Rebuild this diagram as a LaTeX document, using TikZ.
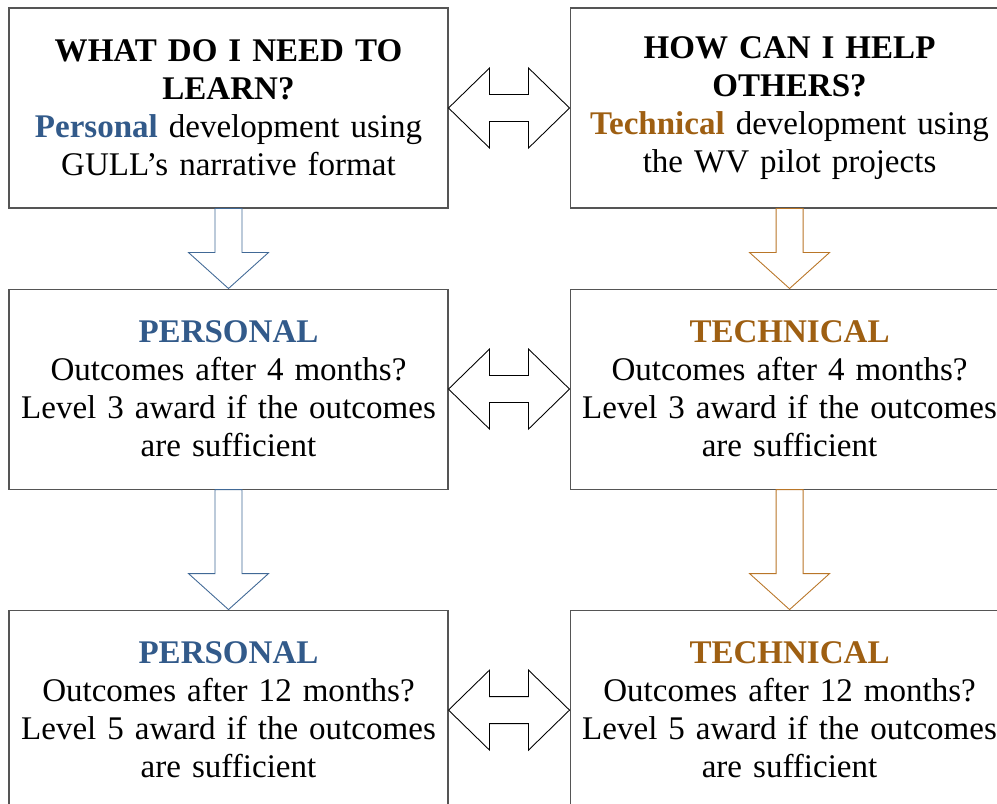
\documentclass[tikz,border=0pt]{standalone}
\usepackage{fontspec}
\setmainfont{Liberation Serif}
\usepackage{tikz}
\usetikzlibrary{positioning,calc}

\definecolor{persblue}{RGB}{50,90,138}
\definecolor{techbrown}{RGB}{158,95,18}
\definecolor{arrowblue}{RGB}{65,105,150}
\definecolor{arrowbrown}{RGB}{185,118,40}
\definecolor{boxgray}{RGB}{85,85,85}

\begin{document}
\begin{tikzpicture}
      \tikzstyle{box}=[rectangle,draw=boxgray,line width=0.6pt,minimum width=8.78cm,minimum height=4cm,
        text width=8.7cm,align=center,inner sep=0pt,font=\fontsize{18.8pt}{21.6pt}\selectfont]
      \tikzstyle{dblarrow}=[draw=black,fill=white,line width=0.5pt,line join=miter]
      \tikzstyle{downblue}=[draw=arrowblue,fill=white,line width=0.5pt,line join=miter]
      \tikzstyle{downbrown}=[draw=arrowbrown,fill=white,line width=0.5pt,line join=miter]

      \useasboundingbox (0,0) rectangle (19.94,-16.08);

      % left column: personal
      \node[box](p1) at (4.57,-2.16){\textbf{WHAT DO I NEED TO}\\ \textbf{LEARN?}\\
        \textbf{\textcolor{persblue}{Personal}} development using\\ GULL’s narrative format};
      \node[box](p2)[below=1.6cm of p1]{\textbf{\textcolor{persblue}{PERSONAL}}\\
        Outcomes after 4 months?\\ Level 3 award if the outcomes\\ are sufficient};
      \node[box](p3)[below=2.4cm of p2]{\textbf{\textcolor{persblue}{PERSONAL}}\\
        Outcomes after 12 months?\\ Level 5 award if the outcomes\\ are sufficient};

      % right column: technical
      \node[box](t1)[right=2.42cm of p1]{\textbf{HOW CAN I HELP}\\ \textbf{OTHERS?}\\
        \textbf{\textcolor{techbrown}{Technical}} development using\\ the WV pilot projects};
      \node[box](t2)[right=2.42cm of p2]{\textbf{\textcolor{techbrown}{TECHNICAL}}\\
        Outcomes after 4 months?\\ Level 3 award if the outcomes\\ are sufficient};
      \node[box](t3)[right=2.42cm of p3]{\textbf{\textcolor{techbrown}{TECHNICAL}}\\
        Outcomes after 12 months?\\ Level 5 award if the outcomes\\ are sufficient};

      % down arrows
      \foreach \a/\b/\s in {p1/p2/downblue,p2/p3/downblue,t1/t2/downbrown,t2/t3/downbrown}{
        \draw[\s] ($(\a.south)+(-0.27,0)$) -- ($(\b.north)+(-0.27,0.72)$) -- ($(\b.north)+(-0.8,0.72)$)
          -- (\b.north) -- ($(\b.north)+(0.8,0.72)$) -- ($(\b.north)+(0.27,0.72)$)
          -- ($(\a.south)+(0.27,0)$) -- cycle;
      }

      % double arrows between the columns
      \foreach \a/\b in {p1/t1,p2/t2,p3/t3}{
        \draw[dblarrow] (\a.east) -- ++(0.82,0.8) -- ++(0,-0.53) -- ($(\b.west)+(-0.82,0.27)$)
          -- ++(0,0.53) -- (\b.west) -- ++(-0.82,-0.8) -- ++(0,0.53)
          -- ($(\a.east)+(0.82,-0.27)$) -- ++(0,-0.53) -- cycle;
      }
    \end{tikzpicture}
\end{document}
